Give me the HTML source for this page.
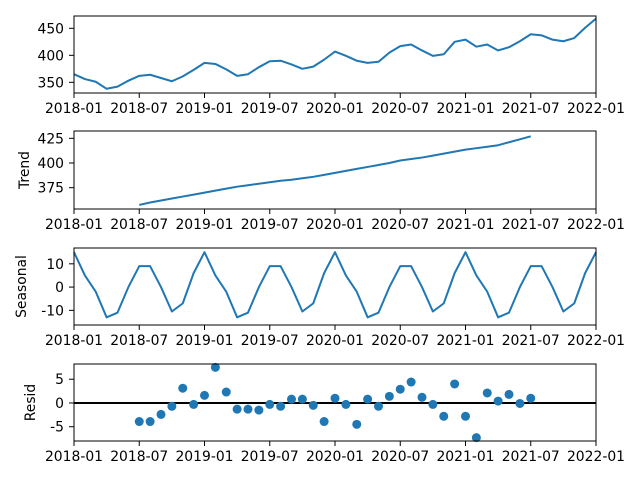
<!DOCTYPE html>
<html><head><meta charset="utf-8"><style>
body{margin:0;background:#fff}
svg{display:block;font-family:"DejaVu Sans","Liberation Sans",sans-serif;font-size:13.9px}
</style></head><body>
<svg id="c" width="640" height="480"></svg>
<script>
const observed=[365,356,351,338,342,353,362,364,358,352,361,373,386,384,374,362,365,378,389,390,383,375,379,392,407,399,390,386,388,405,417,420,409,399,402,425,429,416,420,409,415,426,439,437,429,426,432,451,468];
const trend=[null,null,null,null,null,null,357.5,360,362,364,366,368,370,372,374,376,377.5,379,380.5,382,383,384.5,386,388,390,392,394,396,398,400,402.5,404,405.5,407.5,409.5,411.5,413.5,415,416.5,418,421,424,427,null,null,null,null,null,null];
const seasonalPattern=[15,5,-2,-13,-11,0,9,9,0,-10.5,-7,6];
const resid=[null,null,null,null,null,null,-3.9,-3.9,-2.4,-0.7,3.1,-0.3,1.6,7.5,2.3,-1.3,-1.3,-1.5,-0.3,-0.7,0.8,0.8,-0.5,-3.9,1.0,-0.3,-4.5,0.8,-0.7,1.4,2.9,4.4,1.2,-0.3,-2.8,4.0,-2.8,-7.3,2.1,0.4,1.8,-0.1,1.0,null,null,null,null,null,null];
const xTickLabels=["2018-01","2018-07","2019-01","2019-07","2020-01","2020-07","2021-01","2021-07","2022-01"];
const xTickMonths=[0,6,12,18,24,30,36,42,48];
const seasonal=observed.map((_,i)=>seasonalPattern[i%12]);

const svg=document.getElementById('c');
const NS='http://www.w3.org/2000/svg';
const X0=74,X1=596;
const xs=m=>X0+(X1-X0)*m/48;
function mk(t,a,p){const e=document.createElementNS(NS,t);for(const k in a)e.setAttribute(k,a[k]);(p||svg).appendChild(e);return e;}
const panels=[
 {name:'observed',data:observed,top:16,bot:93,ymin:330.2,ymax:472.8,ticks:[350,400,450],label:null,type:'line'},
 {name:'trend',data:trend,top:131,bot:209,ymin:353.4,ymax:432.4,ticks:[375,400,425],label:'Trend',lx:29,type:'line'},
 {name:'seasonal',data:seasonal,top:248,bot:325,ymin:-16.3,ymax:16.8,ticks:[-10,0,10],label:'Seasonal',lx:26,type:'line'},
 {name:'resid',data:resid,top:364,bot:441,ymin:-8.0,ymax:8.2,ticks:[-5,0,5],label:'Resid',lx:35,type:'scatter'}
];
panels.forEach(p=>{
 const g=mk('g',{});
 
 
 const ys=v=>p.bot-(v-p.ymin)/(p.ymax-p.ymin)*(p.bot-p.top);
 if(p.type==='scatter'){
  const zl=mk('line',{x1:X0,x2:X1,y1:ys(0),y2:ys(0),stroke:'#000','stroke-width':2},g);
  
  
  p.data.forEach((v,i)=>{if(v===null)return;
   const c=mk('circle',{cx:xs(i),cy:ys(v),r:4.5,fill:'#1f77b4'},g);
   
   });
 }else{
  let d='';p.data.forEach((v,i)=>{if(v===null)return;d+=(d?'L':'M')+xs(i).toFixed(2)+','+ys(v).toFixed(2);});
  const l=mk('path',{d:d,fill:'none',stroke:'#1f77b4','stroke-width':2,'stroke-linejoin':'round'},g);
  
  
 }
 const fr=mk('rect',{x:X0,y:p.top,width:X1-X0,height:p.bot-p.top,fill:'none',stroke:'#000','stroke-width':1},g);
 
 
 p.ticks.forEach(t=>{const y=ys(t);
  mk('line',{x1:X0-5,x2:X0,y1:y,y2:y,stroke:'#000','stroke-width':1},g);
  const tx=mk('text',{x:X0-10,y:y+5,'text-anchor':'end',fill:'#000'},g);tx.textContent=t;
  
  });
 xTickMonths.forEach((m,k)=>{const x=xs(m);
  mk('line',{x1:x,x2:x,y1:p.bot,y2:p.bot+5,stroke:'#000','stroke-width':1},g);
  const tx=mk('text',{x:x,y:p.bot+20,'text-anchor':'middle',fill:'#000'},g);tx.textContent=xTickLabels[k];
  
  });
 if(p.label){const cy=(p.top+p.bot)/2;
  const tl=mk('text',{x:p.lx,y:cy,'text-anchor':'middle',transform:'rotate(-90 '+p.lx+' '+cy+')',fill:'#000'},g);
  tl.textContent=p.label;
  
  }
});
</script>
</body></html>
